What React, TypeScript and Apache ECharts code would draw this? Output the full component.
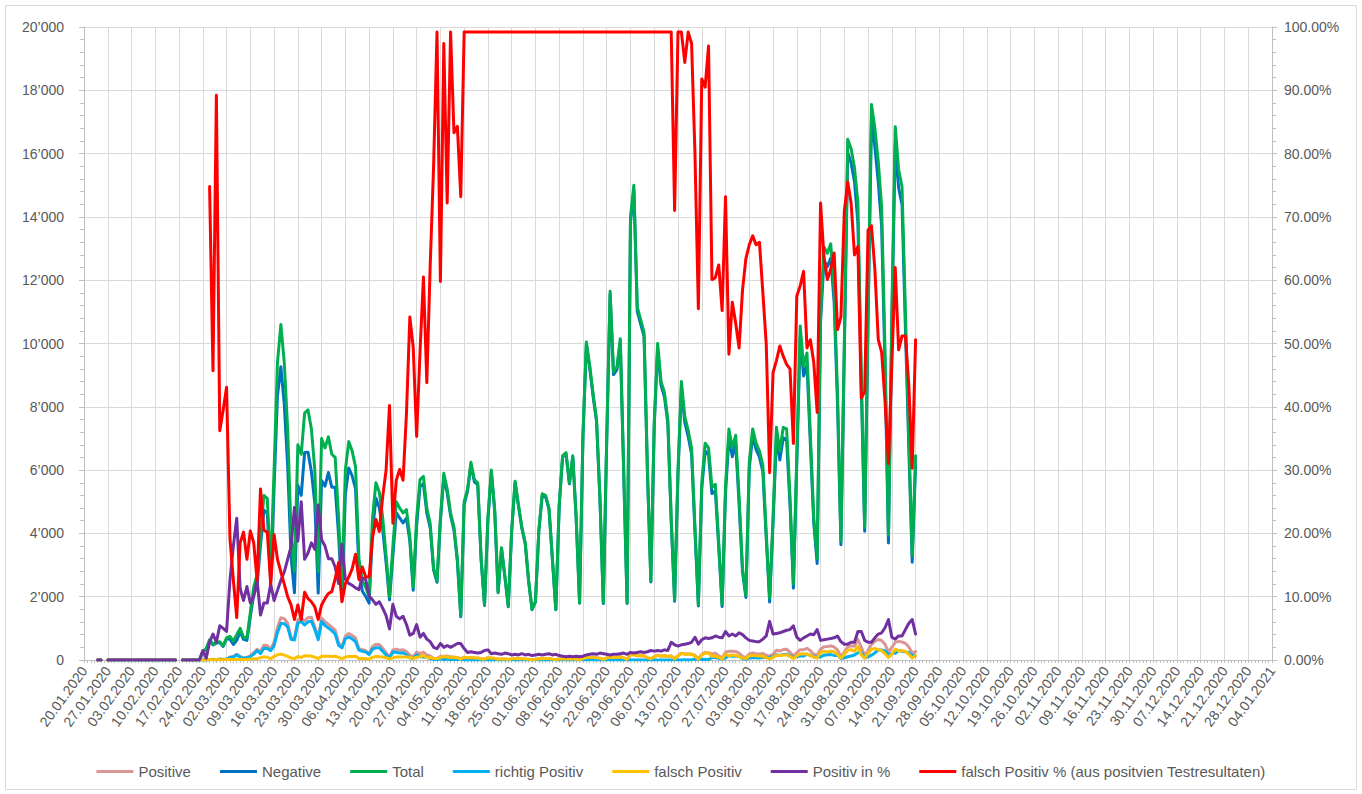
import React, { useEffect, useRef } from "react";
import * as echarts from "echarts";

// ---------- categories (daily, 20.01.2020 .. 04.01.2021) ----------
const FIRST_DAY = Date.UTC(2020, 0, 20);
const DAY_COUNT = 351;
const dates: string[] = [];
for (let i = 0; i < DAY_COUNT; i++) {
  const d = new Date(FIRST_DAY + i * 86400000);
  const dd = String(d.getUTCDate()).padStart(2, "0");
  const mm = String(d.getUTCMonth() + 1).padStart(2, "0");
  dates.push(`${dd}.${mm}.${d.getUTCFullYear()}`);
}

// 20.01.2020 .. 23.02.2020 (35 days): empty / zero
const EARLY: (number | null)[] = [
  null, null, null, null, 0, 0, null,
  0, 0, 0, 0, 0, 0, 0,
  0, 0, 0, 0, 0, 0, 0,
  0, 0, 0, 0, 0, 0, 0,
  null, 0, 0, 0, 0, 0, 0,
];
const EARLY_NULL: (number | null)[] = [
  null, null, null, null, null, null, null,
  null, null, null, null, null, null, null,
  null, null, null, null, null, null, null,
  null, null, null, null, null, null, null,
  null, null, null, null, null, null, null,
];

// values from 24.02.2020 (Mon) to 21.09.2020, one row per week (Mon..Sun)
const totalVals = [
  250, 350, 640, 500, 550, 580, 450,
  700, 750, 600, 800, 1000, 720, 700,
  1500, 2300, 2700, 3900, 5200, 5100, 2800,
  6000, 9400, 10600, 9400, 7300, 4000, 2800,
  6800, 6500, 7800, 7900, 7300, 6000, 2800,
  7000, 6700, 7050, 6500, 6400, 4500, 2300,
  6000, 6900, 6600, 6100, 3200, 2500, 2300,
  2000, 4500, 5600, 5300, 4500, 3300, 2000,
  3600, 5000, 4800, 4650, 4750, 3900, 2300,
  4500, 5700, 5800, 4800, 4300, 2900, 2500,
  4500, 5900, 5400, 4650, 4200, 3200, 1400,
  5000, 5400, 6250, 5700, 5600, 3200, 1750,
  4500, 6000, 4750, 2150, 3550, 2650, 1700,
  4100, 5650, 4900, 4200, 3700, 2500, 1600,
  1850, 4100, 5250, 5200, 4800, 3200, 1600,
  4900, 6450, 6550, 5600, 6450, 4500, 1800,
  7100, 10050, 9300, 8400, 7600, 5150, 1800,
  7000, 11650, 9100, 9250, 10150, 6000, 1800,
  14000, 15000, 11150, 10750, 10350, 6000, 2500,
  7500, 10000, 8800, 8450, 7600, 4500, 1900,
  6000, 8800, 7700, 7250, 6700, 4200, 1750,
  5600, 6850, 6700, 5450, 5550, 3700, 1750,
  5500, 7300, 6700, 7100, 5150, 2900, 2050,
  6250, 7300, 6850, 6600, 6150, 4000, 1950,
  4500, 7350, 6600, 7350, 7300, 5150, 2400,
  6450, 10550, 9300, 9700, 7100, 4500, 3200,
  11000, 13050, 12850, 13150, 11700, 8400, 3750,
  10000, 16450, 16150, 15550, 14450, 9050, 4200,
  11000, 17550, 16800, 15750, 14300, 9700, 3950,
  11000, 16850, 15500, 14950, 11000, 7100, 3300,
  6450,
];

const positiveVals = [
  4, 1, 18, 21, 15, 31, 23,
  32, 95, 108, 179, 113, 68, 81,
  135, 230, 340, 277, 468, 459, 336,
  564, 1034, 1336, 1307, 1161, 716, 675,
  1278, 1300, 1240, 1335, 1350, 1050, 686,
  1330, 1206, 1128, 1040, 941, 545, 421,
  762, 835, 779, 695, 355, 325, 292,
  202, 428, 493, 488, 369, 231, 98,
  317, 345, 312, 321, 266, 152, 97,
  252, 205, 244, 158, 125, 58, 45,
  117, 118, 124, 93, 97, 83, 36,
  90, 65, 81, 68, 62, 38, 26,
  72, 60, 52, 22, 32, 29, 17,
  33, 51, 39, 42, 30, 23, 11,
  15, 37, 42, 47, 48, 26, 14,
  34, 39, 33, 34, 32, 27, 9,
  43, 80, 84, 84, 68, 57, 18,
  63, 93, 82, 83, 102, 66, 16,
  168, 165, 134, 140, 124, 78, 38,
  105, 150, 123, 135, 114, 126, 46,
  132, 211, 193, 189, 188, 151, 44,
  179, 240, 228, 191, 211, 133, 61,
  248, 277, 275, 270, 221, 116, 72,
  194, 219, 199, 191, 203, 152, 119,
  185, 309, 284, 331, 343, 247, 130,
  232, 327, 326, 369, 291, 180, 154,
  341, 418, 424, 447, 410, 319, 109,
  250, 411, 452, 435, 650, 407, 130,
  308, 491, 588, 646, 615, 495, 253,
  396, 556, 589, 568, 528, 412, 211,
  264,
];

const negativeVals = [
  246, 349, 622, 479, 535, 549, 427,
  668, 655, 492, 621, 887, 652, 619,
  1365, 2070, 2360, 3623, 4732, 4641, 2464,
  5436, 8366, 9264, 8093, 6139, 3284, 2125,
  5522, 5200, 6560, 6565, 5950, 4950, 2114,
  5670, 5494, 5922, 5460, 5459, 3955, 1879,
  5238, 6065, 5821, 5405, 2845, 2175, 2008,
  1798, 4072, 5107, 4812, 4131, 3069, 1902,
  3283, 4655, 4488, 4329, 4484, 3748, 2203,
  4248, 5495, 5556, 4642, 4175, 2842, 2455,
  4383, 5782, 5276, 4557, 4103, 3117, 1364,
  4910, 5335, 6169, 5632, 5538, 3162, 1724,
  4428, 5940, 4698, 2128, 3518, 2621, 1683,
  4067, 5599, 4861, 4158, 3670, 2477, 1589,
  1835, 4063, 5208, 5153, 4752, 3174, 1586,
  4866, 6411, 6517, 5566, 6418, 4473, 1791,
  7057, 9970, 9216, 8316, 7532, 5093, 1782,
  6937, 11557, 9018, 9167, 10048, 5934, 1784,
  13832, 14835, 11016, 10610, 10226, 5922, 2462,
  7395, 9850, 8677, 8315, 7486, 4374, 1854,
  5868, 8589, 7507, 7061, 6512, 4049, 1706,
  5421, 6610, 6472, 5259, 5339, 3567, 1689,
  5252, 7023, 6425, 6830, 4929, 2784, 1978,
  6056, 7081, 6651, 6409, 5947, 3848, 1831,
  4315, 7041, 6316, 7019, 6957, 4903, 2270,
  6218, 10223, 8974, 9331, 6809, 4320, 3046,
  10659, 12632, 12426, 12703, 11290, 8081, 3641,
  9750, 16039, 15698, 15115, 13800, 8643, 4070,
  10692, 17059, 16212, 15104, 13685, 9205, 3697,
  10604, 16294, 14911, 14382, 10472, 6688, 3089,
  6186,
];

const richtigVals = [
  4, 1, 5, 11, 2, 20, 14,
  18, 77, 94, 167, 92, 54, 68,
  107, 187, 297, 202, 372, 366, 296,
  452, 870, 1150, 1150, 1045, 654, 632,
  1167, 1217, 1107, 1206, 1226, 962, 642,
  1214, 1089, 1010, 928, 821, 461, 382,
  670, 726, 667, 579, 310, 277, 254,
  176, 345, 384, 389, 274, 162, 59,
  249, 247, 218, 230, 163, 70, 49,
  163, 105, 96, 89, 47, 13, 0,
  47, 3, 34, 1, 16, 13, 10,
  1, 1, 1, 1, 1, 0, 0,
  1, 0, 0, 0, 0, 0, 0,
  0, 0, 0, 0, 0, 0, 0,
  0, 0, 0, 0, 0, 0, 0,
  0, 0, 0, 0, 0, 0, 0,
  0, 1, 1, 1, 1, 0, 0,
  1, 1, 1, 1, 1, 1, 0,
  1, 1, 1, 1, 1, 1, 0,
  1, 1, 1, 1, 1, 1, 13,
  1, 2, 11, 2, 5, 30, 20,
  15, 23, 7, 76, 84, 50, 27,
  66, 143, 120, 126, 112, 48, 26,
  67, 72, 68, 65, 85, 76, 84,
  101, 163, 143, 172, 183, 133, 86,
  99, 134, 126, 187, 144, 95, 94,
  95, 152, 169, 171, 146, 152, 50,
  73, 101, 126, 157, 226, 238, 75,
  99, 154, 225, 319, 316, 293, 175,
  211, 211, 300, 277, 258, 233, 147,
  130,
];

const falschVals = [
  0, 0, 13, 10, 13, 11, 9,
  14, 18, 14, 12, 21, 14, 13,
  28, 43, 43, 75, 96, 93, 40,
  112, 164, 186, 157, 116, 62, 43,
  111, 83, 133, 129, 124, 88, 44,
  116, 117, 118, 112, 120, 84, 39,
  92, 109, 112, 116, 45, 48, 38,
  26, 83, 109, 99, 95, 69, 39,
  68, 98, 94, 91, 103, 82, 48,
  89, 100, 148, 69, 78, 45, 45,
  70, 115, 90, 92, 81, 70, 26,
  89, 64, 80, 67, 61, 38, 26,
  71, 60, 52, 22, 32, 29, 17,
  33, 51, 39, 42, 30, 23, 11,
  15, 37, 42, 47, 48, 26, 14,
  34, 39, 33, 34, 32, 27, 9,
  43, 79, 83, 83, 67, 57, 18,
  62, 92, 81, 82, 101, 65, 16,
  167, 164, 133, 139, 123, 77, 38,
  104, 149, 122, 134, 113, 125, 33,
  131, 209, 182, 187, 183, 121, 24,
  164, 217, 221, 115, 127, 83, 34,
  182, 134, 155, 144, 109, 68, 46,
  127, 147, 131, 126, 118, 76, 35,
  84, 146, 141, 159, 160, 114, 44,
  133, 193, 200, 182, 147, 85, 60,
  246, 266, 255, 276, 264, 167, 59,
  177, 310, 326, 278, 424, 169, 55,
  209, 337, 363, 327, 299, 202, 78,
  185, 345, 289, 291, 270, 179, 64,
  134,
];

// percentages (right axis)
const positivPctVals = [
  1.5, 0.3, 2.8, 4.1, 2.8, 5.4, 5.0,
  4.5, 12.6, 18, 22.4, 11.3, 9.4, 11.6,
  9, 10, 12.6, 7.1, 9, 9, 12,
  9.4, 11, 12.6, 13.9, 15.9, 17.9, 24.1,
  18.8, 25, 15.9, 16.9, 18.5, 17.5, 24.5,
  19, 18, 16, 16, 14.7, 12.1, 18.3,
  12.7, 12.1, 11.8, 11.4, 11.1, 13, 12.7,
  10.1, 9.5, 8.8, 9.2, 8.2, 7, 4.9,
  8.8, 6.9, 6.5, 6.9, 5.6, 3.9, 4.2,
  5.6, 3.6, 4.2, 3.3, 2.9, 2.0, 1.8,
  2.6, 2.0, 2.3, 2.0, 2.3, 2.6, 2.6,
  1.8, 1.2, 1.3, 1.2, 1.1, 1.2, 1.5,
  1.6, 1.0, 1.1, 1.0, 0.9, 1.1, 1.0,
  0.8, 0.9, 0.8, 1.0, 0.8, 0.9, 0.7,
  0.8, 0.9, 0.8, 0.9, 1.0, 0.8, 0.9,
  0.7, 0.6, 0.5, 0.6, 0.5, 0.6, 0.5,
  0.6, 0.8, 0.9, 1.0, 0.9, 1.1, 1.0,
  0.9, 0.8, 0.9, 0.9, 1.0, 1.1, 0.9,
  1.2, 1.1, 1.2, 1.3, 1.2, 1.3, 1.5,
  1.4, 1.5, 1.4, 1.6, 1.5, 2.8, 2.4,
  2.2, 2.4, 2.5, 2.6, 2.8, 3.6, 2.5,
  3.2, 3.5, 3.4, 3.5, 3.8, 3.6, 3.5,
  4.5, 3.8, 4.1, 3.8, 4.3, 4.0, 3.5,
  3.1, 3.0, 2.9, 2.9, 3.3, 3.8, 6.1,
  4.1, 4.2, 4.3, 4.5, 4.7, 4.8, 5.4,
  3.6, 3.1, 3.5, 3.8, 4.1, 4.0, 4.8,
  3.1, 3.2, 3.3, 3.4, 3.5, 3.8, 2.9,
  2.5, 2.5, 2.8, 2.8, 4.5, 4.5, 3.1,
  2.8, 2.8, 3.5, 4.1, 4.3, 5.1, 6.4,
  3.6, 3.3, 3.8, 3.8, 4.8, 5.8, 6.4,
  4.1,
];

const falschPctVals: (number | null)[] = [
  null, null, 74.8, 45.7, 89.2, 36.2, 39.5,
  43.1, 19.2, 12.6, 6.7, 18.5, 20.2, 15.9,
  20.4, 18.5, 12.6, 27, 20.5, 20.2, 12,
  19.8, 15.9, 13.9, 12, 10, 8.7, 6.4,
  8.7, 6.4, 10.7, 9.7, 9.2, 8.4, 6.4,
  8.7, 9.7, 10.5, 10.8, 12.8, 15.4, 9.2,
  12.1, 13.1, 14.4, 16.7, 12.7, 14.7, 13.1,
  13.1, 19.3, 22.2, 20.3, 25.8, 30, 40.2,
  21.6, 28.4, 30.1, 28.4, 38.9, 54.2, 49.3,
  35.3, 48.7, 60.5, 43.8, 62.4, 78.1, 99.2,
  59.8, 97.4, 72.2, 99.2, 83.3, 84.3, 73.2,
  99.2, 99.2, 99.2, 99.2, 99.2, 99.2, 99.2,
  99.2, 99.2, 99.2, 99.2, 99.2, 99.2, 99.2,
  99.2, 99.2, 99.2, 99.2, 99.2, 99.2, 99.2,
  99.2, 99.2, 99.2, 99.2, 99.2, 99.2, 99.2,
  99.2, 99.2, 99.2, 99.2, 99.2, 99.2, 99.2,
  99.2, 99.2, 99.2, 99.2, 99.2, 99.2, 99.2,
  99.2, 99.2, 99.2, 99.2, 99.2, 99.2, 99.2,
  99.2, 99.2, 99.2, 99.2, 99.2, 99.2, 99.2,
  99.2, 99.2, 99.2, 99.2, 99.2, 99.2, 71,
  99.2, 99.2, 94.4, 99.2, 97.4, 80, 55.5,
  91.8, 90.5, 97, 60.1, 60.4, 62.4, 55.2,
  73.2, 48.3, 56.5, 53.2, 49.3, 58.4, 63.4,
  65.6, 67, 65.6, 66, 58, 49.9, 29.6,
  45.4, 47.3, 49.6, 48, 46.7, 46, 34.2,
  57.5, 59.1, 61.4, 49.3, 50.6, 47, 39.1,
  72.2, 63.7, 60.1, 61.7, 64.3, 52.2, 54.2,
  70.9, 75.5, 72.2, 64, 65.3, 41.4, 42.4,
  67.9, 68.6, 61.7, 50.6, 48.6, 40.8, 31,
  46.7, 62, 49, 51.2, 51.2, 43.4, 30.3,
  50.6,
];

const LEFT_TICKS = { min: 0, max: 20000, interval: 2000 };
const RIGHT_TICKS = { min: 0, max: 100, interval: 10 };

const FONT = "'Liberation Sans', Arial, sans-serif";
const AXIS_COLOR = "#bfbfbf";
const GRID_COLOR = "#d9d9d9";
const TEXT_COLOR = "#595959";

function fmtThousands(v: number): string {
  if (v === 0) return "0";
  const th = Math.floor(v / 1000);
  const rest = String(v % 1000).padStart(3, "0");
  return `${th}\u2019${rest}`;
}

export default function App() {
  const ref = useRef<HTMLDivElement>(null);

  useEffect(() => {
    document.body.style.margin = "0";
    if (!ref.current) return;
    const chart = echarts.init(ref.current, undefined, { renderer: "svg" });

    const line = (name: string, data: (number | null)[], color: string, yAxisIndex = 0) => ({
      name,
      type: "line",
      data,
      yAxisIndex,
      symbol: "none",
      showSymbol: false,
      connectNulls: false,
      lineStyle: { width: 3, color, cap: "round", join: "round" },
      itemStyle: { color },
      emphasis: { disabled: true },
    });

    chart.setOption({
      animation: false,
      textStyle: { fontFamily: FONT },
      graphic: [
        {
          type: "rect",
          shape: { x: 5.5, y: 5.5, width: 1351, height: 784 },
          style: { fill: "none", stroke: GRID_COLOR, lineWidth: 1 },
          silent: true,
        },
      ],
      grid: { left: 84, right: 90, top: 27, bottom: 134, containLabel: false },
      legend: {
        top: 759,
        left: "center",
        icon: "rect",
        itemWidth: 37,
        itemHeight: 3,
        itemGap: 29,
        textStyle: { color: TEXT_COLOR, fontSize: 15, fontFamily: FONT },
        data: [
          "Positive",
          "Negative",
          "Total",
          "richtig Positiv",
          "falsch Positiv",
          "Positiv in %",
          "falsch Positiv % (aus positvien Testresultaten)",
        ],
      },
      xAxis: {
        type: "category",
        data: dates,
        boundaryGap: false,
        axisLine: { lineStyle: { color: AXIS_COLOR } },
        axisTick: { show: true, interval: 0, length: 3, lineStyle: { color: AXIS_COLOR } },
        axisLabel: {
          interval: 6,
          rotate: 54,
          color: TEXT_COLOR,
          fontSize: 14,
          margin: 8,
          fontFamily: FONT,
        },
        splitLine: { show: true, interval: 6, lineStyle: { color: GRID_COLOR, width: 1 } },
      },
      yAxis: [
        {
          type: "value",
          min: LEFT_TICKS.min,
          max: LEFT_TICKS.max,
          interval: LEFT_TICKS.interval,
          axisLine: { show: true, lineStyle: { color: AXIS_COLOR } },
          axisTick: { show: true, length: 5, lineStyle: { color: AXIS_COLOR } },
          minorTick: { show: true, splitNumber: 5, length: 4, lineStyle: { color: AXIS_COLOR } },
          splitLine: { show: true, lineStyle: { color: GRID_COLOR, width: 1 } },
          axisLabel: {
            color: TEXT_COLOR,
            fontSize: 14,
            margin: 20,
            fontFamily: FONT,
            formatter: (v: number) => fmtThousands(v),
          },
        },
        {
          type: "value",
          min: RIGHT_TICKS.min,
          max: RIGHT_TICKS.max,
          interval: RIGHT_TICKS.interval,
          position: "right",
          axisLine: { show: true, lineStyle: { color: AXIS_COLOR } },
          axisTick: { show: true, length: 5, lineStyle: { color: AXIS_COLOR } },
          minorTick: { show: true, splitNumber: 5, length: 4, lineStyle: { color: AXIS_COLOR } },
          splitLine: { show: false },
          axisLabel: {
            color: TEXT_COLOR,
            fontSize: 14,
            margin: 12,
            fontFamily: FONT,
            formatter: (v: number) => `${v.toFixed(2)}%`,
          },
        },
      ],
      series: [
        line("Positive", [...EARLY, ...positiveVals], "#DA9694"),
        line("Negative", [...EARLY, ...negativeVals], "#0070C0"),
        line("Total", [...EARLY, ...totalVals], "#00B050"),
        line("richtig Positiv", [...EARLY, ...richtigVals], "#00B0F0"),
        line("falsch Positiv", [...EARLY, ...falschVals], "#FFC000"),
        line("Positiv in %", [...EARLY, ...positivPctVals], "#7030A0", 1),
        line(
          "falsch Positiv % (aus positvien Testresultaten)",
          [...EARLY_NULL, ...falschPctVals],
          "#FF0000",
          1
        ),
      ],
    });

    return () => chart.dispose();
  }, []);

  return <div ref={ref} style={{ width: 1362, height: 794 }} />;
}
